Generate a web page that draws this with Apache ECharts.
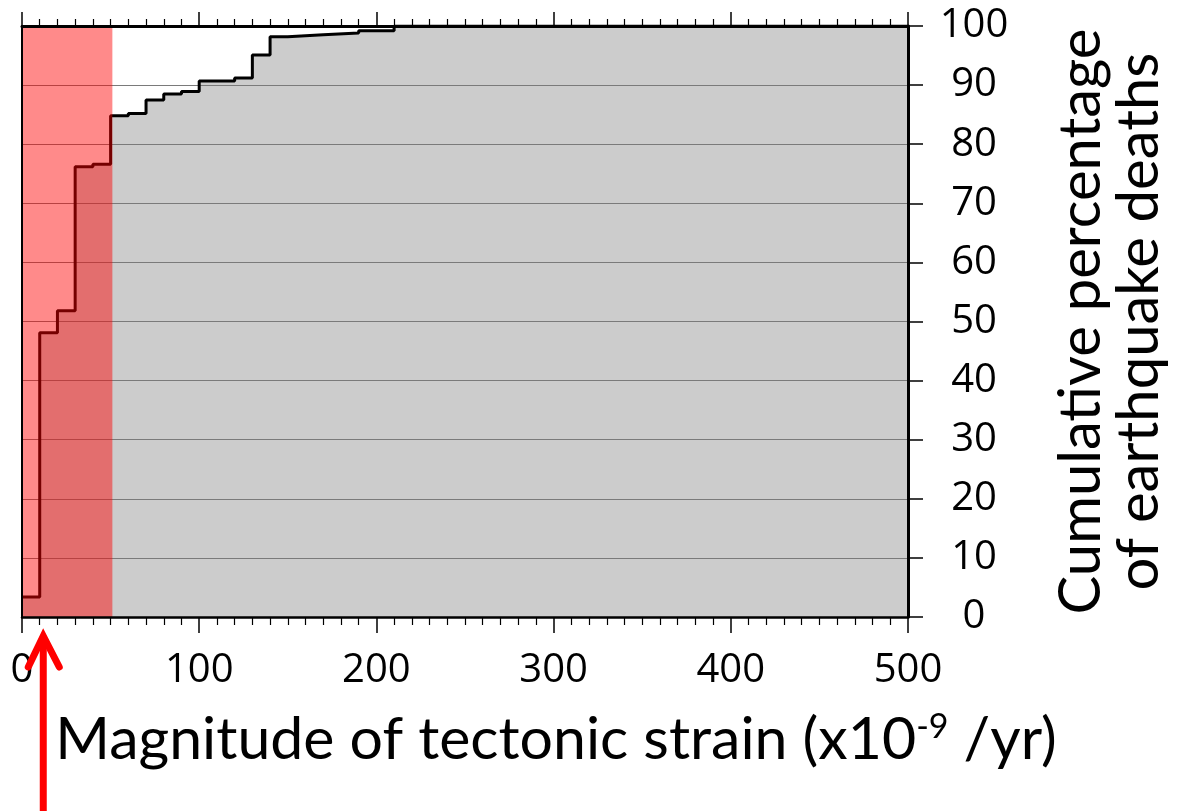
<!DOCTYPE html>
<html><head><meta charset="utf-8">
<script src="https://cdn.jsdelivr.net/npm/echarts@6/dist/echarts.min.js"></script>
<style>html,body{margin:0;padding:0;background:#fff;} #c{width:1188px;height:811px;}</style>
</head><body><div id="c"></div>
<script>
// Step positions (tectonic strain, x10^-9 /yr) and cumulative percentage of deaths
const strainX = [0, 10, 20, 30, 40, 50, 60, 70, 80, 90, 100, 120, 130, 140, 150, 170, 190, 210, 500];
const cumPct  = [3.4, 48.1, 51.8, 76.2, 76.6, 84.8, 85.2, 87.5, 88.5, 88.9, 90.7, 91.2, 95.1, 98.2, 98.5, 98.8, 99.2, 100, 100];
// Highlighted low-strain band
const redBandX = [0, 51];
const redBandTop = [100, 100];
// Axis ranges
const xRange = [0, 500], xStep = 100;
const yRange = [0, 100], yStep = 10;
const arrowX = 12;

const stepData = strainX.map((x, i) => [x, cumPct[i]]);
const bandData = redBandX.map((x, i) => [x, redBandTop[i]]);

const chart = echarts.init(document.getElementById('c'), null, {renderer: 'canvas'});
chart.setOption({
  animation: false,
  backgroundColor: '#ffffff',
  grid: {left: 22, right: 280, top: 26, bottom: 194},
  xAxis: [{
    type: 'value', position: 'bottom', min: xRange[0], max: xRange[1], interval: xStep, z: 5,
    axisLine: {show: true, onZero: false, lineStyle: {color: '#000', width: 2.5}},
    axisTick: {show: true, length: 16, lineStyle: {color: '#000', width: 1.5}},
    minorTick: {show: true, splitNumber: 10, length: 8, lineStyle: {color: '#000', width: 1.2}},
    axisLabel: {fontSize: 40, color: '#000', margin: 34, fontFamily: 'Open Sans'},
    splitLine: {show: false},
    name: 'Magnitude of tectonic strain (x10{sup|-9} /yr)',
    nameLocation: 'middle', nameGap: 93,
    nameTextStyle: {fontSize: 59, color: '#000', fontFamily: 'Lato', padding: [0, 0, 0, 182],
      rich: {sup: {fontSize: 34, color: '#000', fontFamily: 'Lato', verticalAlign: 'top', lineHeight: 42}}}
  }, {
    type: 'value', position: 'top', min: xRange[0], max: xRange[1], interval: xStep, z: 5,
    axisLine: {show: true, onZero: false, lineStyle: {color: '#000', width: 3}},
    axisTick: {show: true, length: 14, lineStyle: {color: '#000', width: 1.5}},
    minorTick: {show: true, splitNumber: 10, length: 7, lineStyle: {color: '#000', width: 1.2}},
    axisLabel: {show: false}, splitLine: {show: false}
  }],
  yAxis: [{
    type: 'value', position: 'right', min: yRange[0], max: yRange[1], interval: yStep, z: 2,
    axisLine: {show: true, onZero: false, lineStyle: {color: '#000', width: 3}},
    axisTick: {show: true, length: 15, lineStyle: {color: '#000', width: 1.5}},
    axisLabel: {fontSize: 40, color: '#000', margin: 66, align: 'center', fontFamily: 'Open Sans'},
    splitLine: {show: true, lineStyle: {color: '#7a7a7a', width: 1.2}},
    name: 'Cumulative percentage\nof earthquake deaths',
    nameLocation: 'middle', nameGap: 144, nameRotate: 90,
    nameTextStyle: {fontSize: 58, color: '#000', fontFamily: 'Lato', lineHeight: 58}
  }, {
    type: 'value', position: 'left', min: yRange[0], max: yRange[1], z: 5,
    axisLine: {show: true, onZero: false, lineStyle: {color: '#000', width: 2}},
    axisTick: {show: false}, axisLabel: {show: false}, splitLine: {show: false}
  }],
  series: [{
    name: 'fill', type: 'line', xAxisIndex: 0, yAxisIndex: 0, data: stepData, step: 'end',
    symbol: 'none', lineStyle: {width: 0}, areaStyle: {color: '#cccccc', opacity: 1}, z: 1, silent: true
  }, {
    name: 'cumulative', type: 'line', xAxisIndex: 0, yAxisIndex: 0, data: stepData, step: 'end',
    symbol: 'none', lineStyle: {color: '#000', width: 3}, z: 3
  }, {
    name: 'band', type: 'line', xAxisIndex: 0, yAxisIndex: 0, data: bandData,
    symbol: 'none', lineStyle: {width: 0}, areaStyle: {color: 'rgba(255,0,0,0.46)', opacity: 1}, z: 4, silent: true
  }]
});

const ax = chart.convertToPixel({xAxisIndex: 0}, arrowX);
const y0 = chart.convertToPixel({yAxisIndex: 0}, 0);
chart.setOption({
  graphic: [
    {type: 'line', z: 100, shape: {x1: ax, y1: 811, x2: ax, y2: y0 + 22},
     style: {stroke: '#ff0000', lineWidth: 7}},
    {type: 'polyline', z: 100, shape: {points: [[ax - 15, y0 + 50], [ax, y0 + 19], [ax + 16, y0 + 50]]},
     style: {stroke: '#ff0000', lineWidth: 7, lineCap: 'round', lineJoin: 'miter', fill: null}}
  ]
});
</script></body></html>
